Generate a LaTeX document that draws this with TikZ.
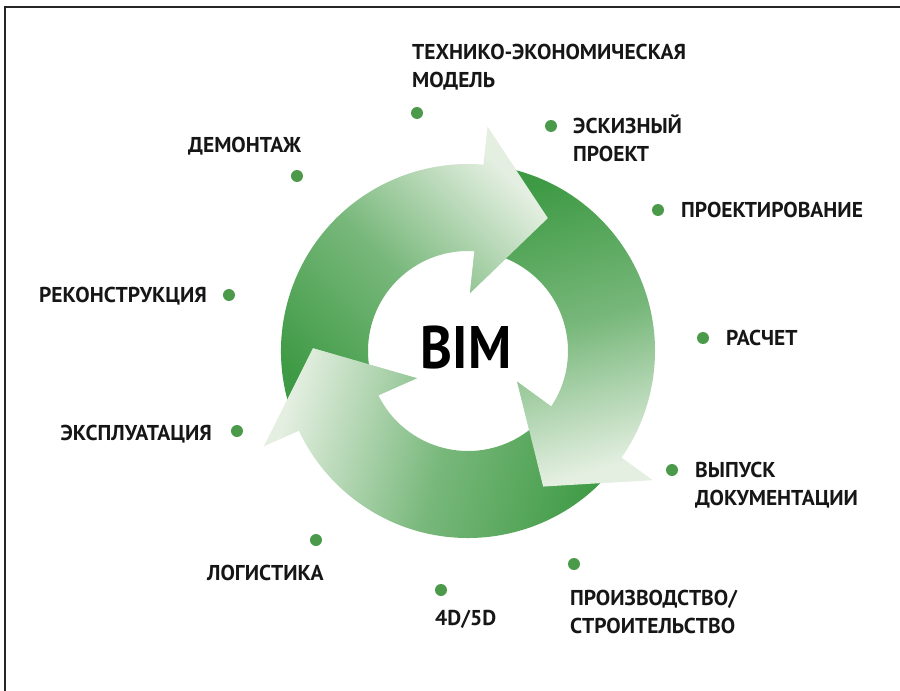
\documentclass[tikz,border=0pt]{standalone}
\usepackage{fontspec}
\setmainfont{PT Sans}
\newfontfamily\bimfont{PT Sans}[FakeStretch=0.9]
\usetikzlibrary{positioning}
\definecolor{BIMDark}{HTML}{3E9A44}
\definecolor{BIMLight}{HTML}{E4EFE1}
\definecolor{DotGreen}{HTML}{4A9A4A}
\definecolor{LabelInk}{HTML}{161616}

\tikzset{
  stage/.style={font=\fontsize{21.5}{28}\selectfont\bfseries, text=LabelInk, inner sep=0pt, align=left},
  stageR/.style={stage, align=right},
  dot/.style={circle, fill=DotGreen, minimum size=12pt, inner sep=0pt},
  ringshade/.style={bottom color=BIMDark, top color=BIMLight, middle color=BIMDark!65!BIMLight, shading angle=#1},
}

% one cycle arrow, head base at angle #1 (ring: r=100..187)
\newcommand{\cyclearrow}[1]{(#1+119:187) arc[start angle=#1+119, end angle=#1+0.2, radius=187]
  -- (#1:225) -- (#1-26:155) -- (#1+3:58) -- (#1+1.3:100)
  arc[start angle=#1+1.3, end angle=#1+119, radius=100] -- cycle}
\newcommand{\arrowhead}[1]{(#1:225) -- (#1-26:155) -- (#1+3:58) -- cycle}

\begin{document}
\begin{tikzpicture}[x=1pt,y=1pt]
\useasboundingbox (-468,-340) rectangle (432,351);

% Frame (top and left only)
\draw[line width=1.3pt, black!85] (432,344) -- (-463,344) -- (-463,-340);

% ---- CYCLE ----
\foreach \a/\s in {85/-45,-35/-165,205/75}
  \shade[ringshade=\s] \cyclearrow{\a};
% heads again, over the tail of the next arrow
\foreach \a/\s in {85/-45,-35/-165,205/75}{
  \begin{scope}
    \clip \arrowhead{\a};
    \shade[ringshade=\s] \cyclearrow{\a};
  \end{scope}
}

\node[font=\bimfont\fontsize{60}{60}\selectfont\bfseries, text=black] (bim) at (-2,4) {BIM};

% ---- STAGES ----
% (multi-line labels: base = last line)
\node[dot] (d-tem) at (-51,238) {};
\node[stage, anchor=base west] (tem) at (-56,263) {ТЕХНИКО-ЭКОНОМИЧЕСКАЯ\\МОДЕЛЬ};

\node[dot] (d-esk) at (83,225) {};
\node[stage, anchor=base west] (esk) at (105,189) {ЭСКИЗНЫЙ\\ПРОЕКТ};

\node[dot] (d-proekt) at (190,141) {};
\node[stage, anchor=base west] (proekt) at (213,133) {ПРОЕКТИРОВАНИЕ};

\node[dot] (d-raschet) at (235,13) {};
\node[stage, anchor=base west] (raschet) at (258,6) {РАСЧЕТ};

\node[dot] (d-vypusk) at (204,-119) {};
\node[stage, anchor=base west] (vypusk) at (227,-154) {ВЫПУСК\\ДОКУМЕНТАЦИИ};

\node[dot] (d-proizv) at (106,-213) {};
\node[stage, anchor=base west] (proizv) at (102,-282) {ПРОИЗВОДСТВО/\\СТРОИТЕЛЬСТВО};

\node[dot] (d-4d) at (-27,-239) {};
\node[stage, anchor=base west] (4d) at (-33,-274) {4D/5D};

\node[dot] (d-logist) at (-152,-189) {};
\node[stage, anchor=base west] (logist) at (-261,-229) {ЛОГИСТИКА};

\node[dot] (d-exp) at (-231,-80) {};
\node[stageR, anchor=base east] (exp) at (-256,-89) {ЭКСПЛУАТАЦИЯ};

\node[dot] (d-rekon) at (-239,56) {};
\node[stageR, anchor=base east] (rekon) at (-261,49) {РЕКОНСТРУКЦИЯ};

\node[dot] (d-demont) at (-171,175) {};
\node[stage, anchor=base west] (demont) at (-280,198) {ДЕМОНТАЖ};

\end{tikzpicture}
\end{document}
